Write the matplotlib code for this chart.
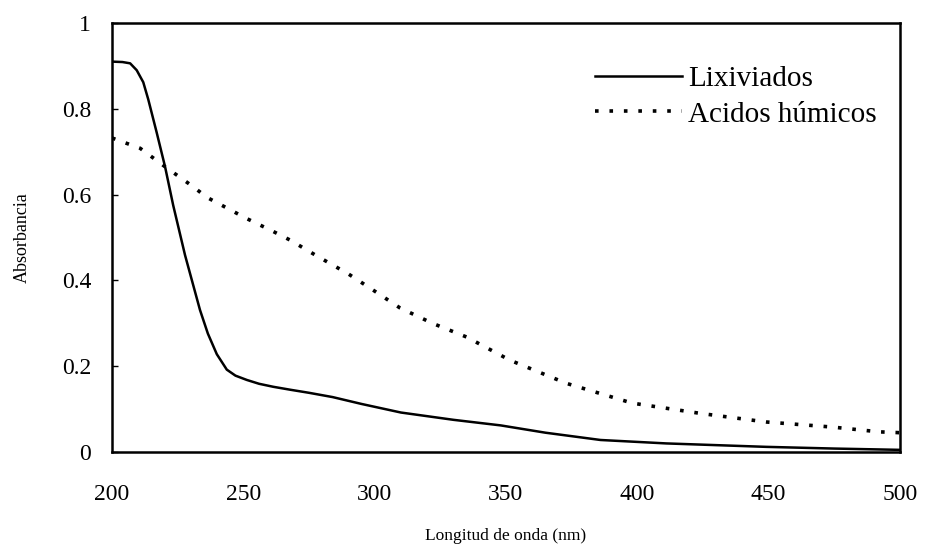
import matplotlib
matplotlib.use("Agg")
import matplotlib.pyplot as plt

# Data
wl_lix = [200, 204, 206.9, 209.4, 211.9, 213.8, 217.0, 220.2, 223.3, 227.8, 233.5,
          236.5, 239.9, 243.7, 247, 251.3, 256, 261.4, 268, 275, 284, 295, 310,
          330, 348, 365, 386, 411, 430, 449, 475, 500]
abs_lix = [0.910, 0.909, 0.906, 0.890, 0.862, 0.822, 0.745, 0.665, 0.575, 0.459, 0.331,
           0.276, 0.228, 0.192, 0.178, 0.168, 0.159, 0.152, 0.145, 0.138,
           0.128, 0.112, 0.092, 0.075, 0.062, 0.045, 0.028, 0.020, 0.016, 0.012, 0.008,
           0.005]

wl_ah = [200, 210.7, 220.2, 231, 236, 251, 261.4, 267.8, 278, 290, 300, 309.6, 322, 335,
         351.5, 373, 398, 424, 449, 474.5, 492, 500]
abs_ah = [0.732, 0.708, 0.665, 0.618, 0.594, 0.545, 0.514, 0.494, 0.457, 0.415, 0.375,
          0.336, 0.300, 0.268, 0.214, 0.160, 0.114, 0.090, 0.070, 0.058, 0.047, 0.045]

x_ticks = [200, 250, 300, 350, 400, 450, 500]
y_ticks = [0, 0.2, 0.4, 0.6, 0.8, 1]
y_tick_labels = ["0", "0.2", "0.4", "0.6", "0.8", "1"]

plt.rcParams['font.family'] = ['Liberation Serif', 'DejaVu Serif']

fig = plt.figure(figsize=(9.29, 5.53), dpi=100)
ax = fig.add_axes([112/929, 1-452/553, (900-112)/929, (452-23)/553])

ax.plot(wl_lix, abs_lix, color='black', lw=1.8, label='Lixiviados',
        solid_joinstyle='round')
ax.plot(wl_ah, abs_ah, color='black', lw=2.6, linestyle=(0, (1.0, 3.0)),
        label='Acidos húmicos')

ax.set_xlim(200, 500)
ax.set_ylim(0, 1)
ax.set_xticks(x_ticks)
ax.set_xticklabels([str(v) for v in x_ticks])
ax.set_yticks(y_ticks)
ax.set_yticklabels(y_tick_labels)

for s in ax.spines.values():
    s.set_linewidth(1.8)
    s.set_color('black')

ax.tick_params(axis='y', direction='in', length=4, width=1, pad=15, labelsize=17)
ax.tick_params(axis='x', length=0, pad=23, labelsize=17)

ax.set_xlabel('Longitud de onda (nm)', fontsize=12.5)
ax.set_ylabel('Absorbancia', fontsize=13)
ax.xaxis.set_label_coords(0.5, -0.178)
ax.yaxis.set_label_coords(-0.103, 0.5)

leg = ax.legend(loc='upper left', bbox_to_anchor=((595-112)/788, (452-66)/429),
                frameon=False, fontsize=21, handlelength=3.0, handletextpad=0.2,
                labelspacing=0.3, borderaxespad=0.0, borderpad=0.0)

fig.savefig('out.png', dpi=100)
